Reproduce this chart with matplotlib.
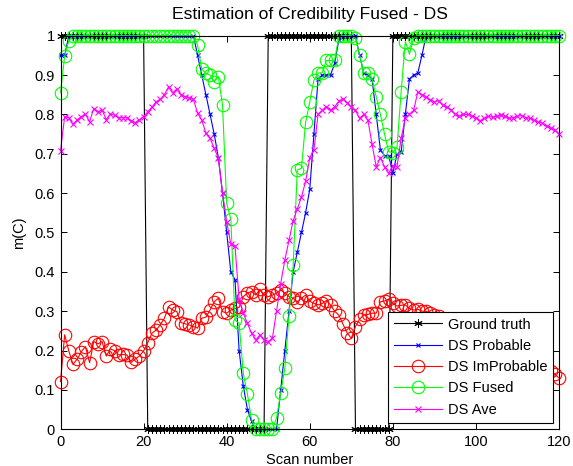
# Estimation of Credibility Fused - DS
# Ground truth against the DS probable / improbable / fused / average masses

from matplotlib import pyplot as plt
from matplotlib.ticker import FormatStrFormatter
import numpy as np

plt.rcParams['font.family'] = ['Liberation Sans', 'DejaVu Sans']
plt.rcParams['font.size'] = 10.5

# Scan numbers
scan = np.arange(0, 121)

# Ground truth (1 = credible, 0 = not)
ground_truth = [1]*21 + [0]*29 + [1]*21 + [0]*9 + [1]*41

# DS Probable
ds_probable = ([0.95, 0.95] + [1.0]*31 +
               [0.95, 0.90, 0.85, 0.80, 0.75, 0.69, 0.60, 0.50, 0.40, 0.38,
                0.20, 0.11, 0.05, 0.02] +
               [0.0]*6 +
               [0.10, 0.20, 0.30, 0.40, 0.45, 0.50, 0.55, 0.61, 0.75, 0.89,
                0.90, 0.90, 0.90, 0.93, 0.99] +
               [1.0]*4 +
               [0.95, 0.905, 0.90, 0.89, 0.80, 0.71, 0.695, 0.695, 0.65, 0.70,
                0.705, 0.80, 0.89, 0.90, 0.905, 0.95] +
               [1.0]*33)

# DS ImProbable
ds_improbable = [0.121, 0.24, 0.199, 0.165, 0.178, 0.197, 0.21, 0.169, 0.223, 0.217,
                 0.223, 0.186, 0.204, 0.20, 0.189, 0.19, 0.189, 0.17, 0.179, 0.186,
                 0.199, 0.22, 0.244, 0.252, 0.265, 0.282, 0.311, 0.303, 0.299, 0.271,
                 0.268, 0.265, 0.261, 0.257, 0.282, 0.285, 0.303, 0.324, 0.333, 0.299,
                 0.295, 0.303, 0.307, 0.31, 0.337, 0.346, 0.35, 0.341, 0.356, 0.341,
                 0.337, 0.341, 0.346, 0.354, 0.346, 0.337, 0.333, 0.324, 0.333, 0.341,
                 0.325, 0.32, 0.316, 0.32, 0.327, 0.316, 0.30, 0.29, 0.267, 0.245,
                 0.231, 0.261, 0.28, 0.29, 0.292, 0.295, 0.295, 0.324, 0.326, 0.331,
                 0.32, 0.313, 0.315, 0.316, 0.307, 0.303, 0.305, 0.30, 0.30, 0.296,
                 0.29, 0.287, 0.28, 0.276, 0.27, 0.266, 0.262, 0.255, 0.251, 0.247,
                 0.24, 0.236, 0.231, 0.226, 0.222, 0.216, 0.212, 0.207, 0.203, 0.197,
                 0.193, 0.188, 0.183, 0.178, 0.174, 0.168, 0.163, 0.157, 0.147, 0.14,
                 0.13]

# DS Fused
ds_fused = ([0.855, 0.948, 0.987] + [1.0]*30 +
            [0.976, 0.915, 0.905, 0.90, 0.883, 0.896, 0.824, 0.574, 0.534, 0.278,
             0.269, 0.142, 0.089, 0.024] +
            [0.0]*5 +
            [0.029, 0.091, 0.155, 0.288, 0.417, 0.659, 0.663, 0.78, 0.832, 0.887,
             0.905, 0.906, 0.937, 0.937, 0.938] +
            [0.998] + [1.0]*3 +
            [0.993, 0.95, 0.906, 0.905, 0.89, 0.845, 0.80, 0.75, 0.705, 0.703,
             0.716, 0.858, 0.985, 0.953, 0.993] +
            [1.0]*35)

# DS Ave
ds_ave = [0.708, 0.794, 0.792, 0.775, 0.786, 0.794, 0.801, 0.781, 0.815, 0.807,
          0.811, 0.787, 0.801, 0.798, 0.792, 0.792, 0.792, 0.784, 0.779, 0.787,
          0.794, 0.807, 0.818, 0.832, 0.838, 0.85, 0.87, 0.855, 0.865, 0.85,
          0.845, 0.842, 0.838, 0.803, 0.786, 0.752, 0.739, 0.714, 0.689, 0.60,
          0.527, 0.47, 0.465, 0.33, 0.295, 0.269, 0.244, 0.227, 0.24, 0.227,
          0.223, 0.231, 0.30, 0.37, 0.43, 0.48, 0.53, 0.56, 0.59, 0.63,
          0.69, 0.71, 0.80, 0.81, 0.82, 0.81, 0.82, 0.833, 0.84, 0.83,
          0.82, 0.81, 0.79, 0.80, 0.785, 0.724, 0.667, 0.69, 0.667, 0.65,
          0.67, 0.667, 0.74, 0.79, 0.80, 0.81, 0.857, 0.85, 0.845, 0.837,
          0.832, 0.835, 0.824, 0.818, 0.812, 0.80, 0.795, 0.80, 0.80, 0.797,
          0.792, 0.784, 0.79, 0.795, 0.793, 0.795, 0.798, 0.795, 0.79, 0.792,
          0.795, 0.797, 0.792, 0.79, 0.785, 0.78, 0.778, 0.77, 0.765, 0.76,
          0.75]

# Frame
fig = plt.figure(figsize=(5.73, 4.66), dpi=100)
ax = fig.add_axes([0.1056, 0.0788, 0.870, 0.8446])

lw = 0.8
asterisk = (6, 2, 0)
ax.plot(scan, ground_truth, 'k-', marker=asterisk, linewidth=lw, markersize=6,
        markeredgewidth=0.7, clip_on=False, label='Ground truth')
ax.plot(scan, ds_probable, 'b-x', linewidth=lw, markersize=3.5, markeredgewidth=0.8,
        clip_on=False, label='DS Probable')
ax.plot(scan, ds_improbable, 'r-o', linewidth=lw, markersize=9, markerfacecolor='none',
        markeredgewidth=0.8, clip_on=False, label='DS ImProbable')
ax.plot(scan, ds_fused, '-o', color=(0, 1, 0), linewidth=lw, markersize=9,
        markerfacecolor='none', markeredgewidth=0.8, clip_on=False, label='DS Fused')
ax.plot(scan, ds_ave, '-x', color=(1, 0, 1), linewidth=lw, markersize=4,
        markeredgewidth=0.8, clip_on=False, label='DS Ave')

ax.set_xlim(0, 120)
ax.set_ylim(0, 1)
ax.set_xticks(np.arange(0, 121, 20))
ax.set_yticks(np.arange(0, 1.01, 0.1))
ax.yaxis.set_major_formatter(FormatStrFormatter('%g'))
ax.tick_params(direction='in', top=True, right=True, length=4, width=0.7, pad=4)
for s in ax.spines.values():
    s.set_linewidth(0.8)

ax.set_title('Estimation of Credibility Fused - DS', pad=12)
ax.set_xlabel('Scan number', labelpad=3)
ax.set_ylabel('m(C)', labelpad=6)

leg = ax.legend(loc='lower right', bbox_to_anchor=(0.988, 0.017), borderaxespad=0,
                numpoints=1, handlelength=3.3, handletextpad=0.4, labelspacing=0.5,
                borderpad=0.4, fancybox=False, framealpha=1)
leg.get_frame().set_edgecolor('k')
leg.get_frame().set_linewidth(0.8)

plt.savefig('out.png', dpi=100)
